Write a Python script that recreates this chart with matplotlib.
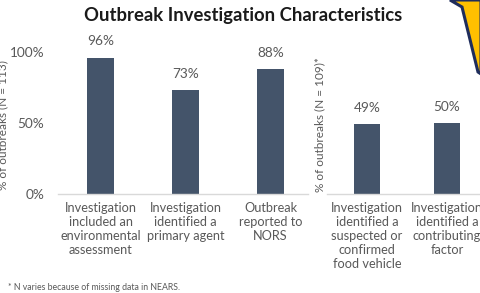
import matplotlib.pyplot as plt
from matplotlib.patches import Polygon

plt.rcParams['font.family'] = ['Lato', 'DejaVu Sans']

# Data
left_labels = [
    "Investigation\nincluded an\nenvironmental\nassessment",
    "Investigation\nidentified a\nprimary agent",
    "Outbreak\nreported to\nNORS",
]
left_values = [0.96, 0.73, 0.88]
right_labels = [
    "Investigation\nidentified a\nsuspected or\nconfirmed\nfood vehicle",
    "Investigation\nidentified a\ncontributing\nfactor",
]
right_values = [0.49, 0.50]

bar_color = '#44546A'
text_gray = '#595959'
W, H = 481, 293


def px_axes(x0, x1, y_bottom, y_top):
    """Axes placed by pixel coords (origin top-left)."""
    return fig.add_axes([x0 / W, 1 - y_bottom / H, (x1 - x0) / W, (y_bottom - y_top) / H])


fig = plt.figure(figsize=(W / 100, H / 100), dpi=100)

ax1 = px_axes(58, 308, 194, 52)
ax2 = px_axes(327, 481, 194, 52)

for ax, labels, values, xlim in [
    (ax1, left_labels, left_values, (-0.5, 2.44)),
    (ax2, right_labels, right_values, (-0.5, 1.425)),
]:
    pos = list(range(len(values)))
    ax.bar(pos, values, width=0.32, color=bar_color)
    for p, v in zip(pos, values):
        ax.annotate(f"{v:.0%}", (p, v), xytext=(0, 7.5), textcoords='offset points',
                    ha='center', va='bottom', fontsize=9.8, color=text_gray)
    ax.set_xlim(*xlim)
    ax.set_ylim(0, 1)
    ax.set_xticks(pos)
    ax.set_xticklabels(labels, fontsize=9.2, color=text_gray, linespacing=1.2, va='top')
    ax.tick_params(axis='x', length=0, pad=6)
    for s in ['top', 'right', 'left']:
        ax.spines[s].set_visible(False)
    ax.spines['bottom'].set_color('#D9D9D9')
    ax.spines['bottom'].set_linewidth(1)

ax1.set_yticks([0, 0.5, 1.0])
ax1.set_yticklabels(['0%', '50%', '100%'], fontsize=9.8, color=text_gray)
ax1.tick_params(axis='y', length=0, pad=10)
ax2.set_yticks([])

fig.text(3 / W, 1 - 125 / H, "% of outbreaks (N = 113)", rotation=90, ha='center', va='center',
         fontsize=8.5, color=text_gray)
fig.text(320 / W, 1 - 125 / H, "% of outbreaks (N = 109)*", rotation=90, ha='center', va='center',
         fontsize=8.5, color=text_gray)

fig.text(243 / W, 1 - 15 / H, "Outbreak Investigation Characteristics", ha='center', va='center',
         fontsize=13.3, fontweight='bold', color='#1a1a1a')

fig.text(8 / W, 1 - 287 / H, "* N varies because of missing data in NEARS.", ha='left', va='center',
         fontsize=6.3, color=text_gray)

# yellow corner decoration
corner = [(450, 0), (462, 7), (478, 72), (481, 74), (481, 0)]
fig.patches.append(Polygon([(x / W, 1 - y / H) for x, y in corner], closed=True,
                           transform=fig.transFigure, facecolor='#FFC000',
                           edgecolor='#1F2D5C', linewidth=2.2))

fig.savefig('out.png', dpi=100)
